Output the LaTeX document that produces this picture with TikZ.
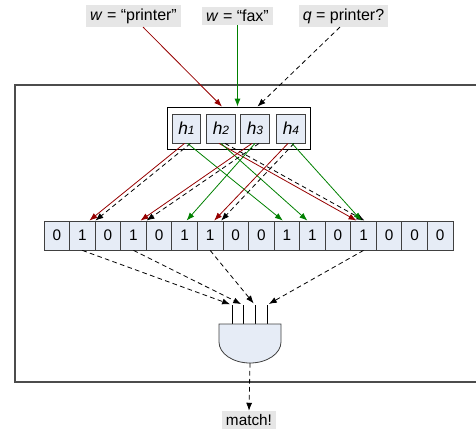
\documentclass[tikz,border=0pt]{standalone}
\usepackage{fontspec}
\setmainfont{Liberation Sans}
\usetikzlibrary{arrows.meta,calc}
\definecolor{boxfill}{RGB}{230,236,246}
\definecolor{lblfill}{RGB}{230,230,230}
\definecolor{hred}{RGB}{150,0,0}
\definecolor{hgreen}{RGB}{0,128,0}
\newcommand\hlab[1]{{\fontsize{13}{14}\selectfont\itshape h}{\fontsize{9}{10}\selectfont\itshape #1}}
\begin{document}
\begin{tikzpicture}[x=0.75pt,y=-0.75pt,
  every node/.style={font=\fontsize{11.5}{13}\selectfont},
  cell/.style={draw=black!75, fill=boxfill, line width=0.6pt, minimum width=19.17pt, minimum height=21.75pt, inner sep=0pt},
  hcell/.style={draw=black!75, fill=boxfill, line width=0.6pt, minimum width=21.5pt, minimum height=21.75pt, inner sep=0pt},
  lbl/.style={fill=lblfill, inner xsep=3pt, inner ysep=2.5pt, font=\fontsize{12}{14}\selectfont},
  arr/.style={-{Latex[length=6pt,width=4.5pt]}, line width=0.6pt},
  redarr/.style={arr, draw=hred},
  greenarr/.style={arr, draw=hgreen},
  dasharr/.style={arr, draw=black, dash pattern=on 3.5pt off 2.5pt},
  wire/.style={draw=black, line width=0.6pt},
]
\useasboundingbox (0,0) rectangle (476,432);
% outer frame (right side beyond the picture)
\draw[black!70, line width=0.8pt] (476,85) -- (15,85) -- (15,382) -- (476,382);

% top labels
\node[lbl] (lp) at (133.5,16) {\textit{w} = “printer”};
\node[lbl] (lf) at (237.5,16) {\textit{w} = “fax”};
\node[lbl] (lq) at (343.5,16) {\textit{q} = printer?};

% hash box
\node[draw=black, fill=white, line width=0.6pt, minimum width=107.25pt, minimum height=31.5pt] (hb) at (238.5,128) {};
\node[hcell] (h1) at (186.5,128.5) {\hlab{1}};
\node[hcell] (h2) at (221,128.5) {\hlab{2}};
\node[hcell] (h3) at (255,128.5) {\hlab{3}};
\node[hcell] (h4) at (291,128.5) {\hlab{4}};

% bit array
\foreach \b [count=\i from 0] in {0,1,0,1,0,1,1,0,0,1,1,0,1,0,0,0}
  \node[cell] (b\i) at ({44+25.5625*(\i+0.5)},235.5) {\b};

% labels to hash box
\draw[redarr] ($(lp.south)+(9.5,0)$) -- ($(hb.north)+(-16.5,0)$);
\draw[greenarr] (lf.south) -- (lf.south |- hb.north);
\draw[dasharr] ($(lq.south)+(-3.5,0)$) -- ($(hb.north)+(19,0)$);

% hash functions to bits
\draw[redarr] ($(h1.south)+(-2,0)$) -- ($(b1.north)+(7,0)$);
\draw[dasharr] ($(h1.south)+(4,0)$) -- ($(b1.north)+(13,0)$);
\draw[greenarr] ($(h1.south)+(1,0)$) -- ($(b9.north)+(-4,0)$);

\draw[redarr] ($(h2.south)+(-2,0)$) -- ($(b12.north)+(-7,0)$);
\draw[dasharr] ($(h2.south)+(4,0)$) -- ($(b12.north)+(1,0)$);
\draw[greenarr] ($(h2.south)+(0,0)$) -- ($(b10.north)+(-5,0)$);

\draw[redarr] ($(h3.south)+(-3,0)$) -- ($(b3.north)+(7,0)$);
\draw[dasharr] ($(h3.south)+(4,0)$) -- ($(b3.north)+(13,0)$);
\draw[greenarr] ($(h3.south)+(0,0)$) -- ($(b5.north)+(2,0)$);

\draw[redarr] ($(h4.south)+(-3,0)$) -- ($(b6.north)+(4,0)$);
\draw[dasharr] ($(h4.south)+(3,0)$) -- ($(b6.north)+(11,0)$);
\draw[greenarr] ($(h4.south)+(1,0)$) -- ($(b12.north)+(-2,0)$);

% AND gate
\coordinate (g1) at (232,305);
\coordinate (g2) at (243,305);
\coordinate (g3) at (255,305);
\coordinate (g4) at (267,305);
\coordinate (gt) at (250,324);
\foreach \k in {1,2,3,4} \draw[wire] (g\k) -- (g\k |- gt);
\draw[fill=boxfill, draw=black!75, line width=0.6pt] (219,324) -- (281,324) -- (281,342)
  arc[start angle=0, end angle=180, x radius=31, y radius=21] -- cycle;
\coordinate (go) at (250,363);

% bits to gate
\draw[dasharr, shorten >=1.5pt] (b1.south) -- (g1);
\draw[dasharr, shorten >=1.5pt] (b3.south) -- (g2);
\draw[dasharr, shorten >=1.5pt] (b6.south) -- (g3);
\draw[dasharr, shorten >=1.5pt] (b12.south) -- (g4);

% output
\node[lbl, font=\fontsize{11.5}{13}\selectfont] (m) at (249,420) {match!};
\draw[dasharr] (go) -- (m.north);
\end{tikzpicture}
\end{document}
